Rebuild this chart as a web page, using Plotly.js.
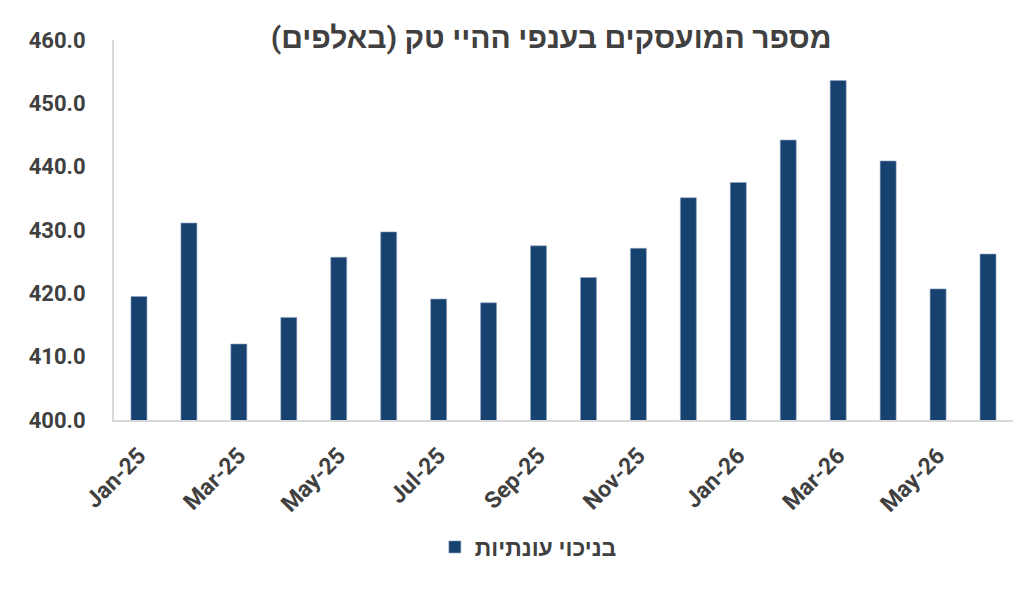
<!DOCTYPE html>
<html>
<head>
<meta charset="utf-8">
<script src="https://cdn.plot.ly/plotly-3.0.1.min.js"></script>
<style>html,body{margin:0;padding:0;background:#fff;}#chart{width:1036px;height:594px;}</style>
</head>
<body>
<div id="chart"></div>
<script>
const months = ['Jan-25','Feb-25','Mar-25','Apr-25','May-25','Jun-25','Jul-25','Aug-25','Sep-25','Oct-25','Nov-25','Dec-25','Jan-26','Feb-26','Mar-26','Apr-26','May-26','Jun-26'];
const employed = [419.5,431.1,412.0,416.2,425.7,429.7,419.1,418.5,427.5,422.5,427.1,435.1,437.5,444.2,453.6,440.9,420.7,426.2];
const xTickLabels = ['Jan-25','Mar-25','May-25','Jul-25','Sep-25','Nov-25','Jan-26','Mar-26','May-26'];
const yTicks = [400,410,420,430,440,450,460];
const seriesName = 'בניכוי עונתיות';
const chartTitle = 'מספר המועסקים בענפי ההיי טק (באלפים)';

const FONT = "Roboto, 'Liberation Sans', Arial, sans-serif";
const TXT = '#404040';

const trace = {
  type: 'bar',
  x: months,
  y: employed,
  name: '<b>' + seriesName + '</b>',
  marker: {color: '#17416f', line: {color: '#8fa3bf', width: 0.6}},
  showlegend: true
};

const layout = {
  width: 1036, height: 594,
  paper_bgcolor: '#fff', plot_bgcolor: '#fff',
  margin: {l: 114, r: 23, t: 40, b: 174},
  bargap: 0.68,
  font: {family: FONT, color: TXT},
  title: {
    text: '<b>' + chartTitle + '</b>',
    font: {family: FONT, size: 30, color: TXT},
    xref: 'container', yref: 'container',
    x: 0.532, xanchor: 'center', y: 1 - 37/594, yanchor: 'middle'
  },
  xaxis: {
    type: 'category',
    range: [-0.5, months.length - 0.5],
    tickmode: 'array',
    tickvals: xTickLabels,
    ticktext: xTickLabels.map(t => '<b>' + t + '</b>'),
    tickangle: -45,
    tickfont: {family: FONT, size: 23, color: TXT},
    showline: true, linecolor: '#d9d9d9', linewidth: 2,
    ticks: '', showgrid: false, zeroline: false,
    ticklabelstandoff: 11
  },
  yaxis: {
    range: [400, 460],
    tickmode: 'array',
    tickvals: yTicks,
    ticktext: yTicks.map(v => '<b>' + v.toFixed(1) + '</b>'),
    tickfont: {family: FONT, size: 22, color: TXT},
    showline: true, linecolor: '#d9d9d9', linewidth: 2,
    ticks: '', showgrid: false, zeroline: false,
    ticklabelstandoff: 22
  },
  showlegend: true,
  legend: {
    orientation: 'h',
    xref: 'container', yref: 'container',
    x: 0.51, xanchor: 'center', y: 1 - 547/594, yanchor: 'middle',
    font: {family: FONT, size: 23, color: TXT},
    bgcolor: 'rgba(0,0,0,0)'
  }
};

Plotly.newPlot('chart', [trace], layout, {displayModeBar: false, staticPlot: true});
</script>
</body>
</html>
